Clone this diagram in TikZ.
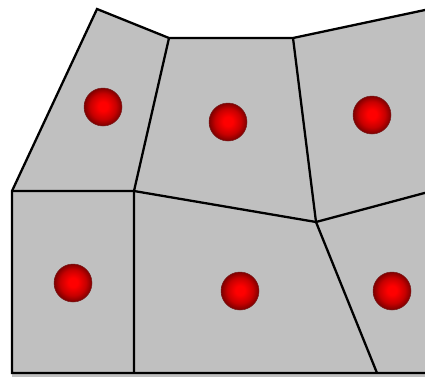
\documentclass[tikz,border=0pt]{standalone}
\usetikzlibrary{shapes.geometric}
\definecolor{cellgray}{RGB}{192,192,192}
\definecolor{balldark}{RGB}{125,0,0}
\definecolor{ballrim}{RGB}{120,30,30}
\pgfdeclareradialshading{seedball}{\pgfpoint{0bp}{1bp}}{%
  color(0bp)=(red); color(6bp)=(red); color(17bp)=(red!78!black); color(25bp)=(balldark); color(50bp)=(balldark)}
\begin{document}
\begin{tikzpicture}[x=1pt,y=-1pt,
  edge/.style={line width=2.3pt, line join=miter, line cap=butt, black},
  seed/.style={circle, minimum size=38pt, inner sep=0pt, draw=ballrim, line width=0.5pt,
    shading=seedball}]
\useasboundingbox (0,0) rectangle (425,376);
\clip (0,0) rectangle (425,376);
% outer region
\fill[cellgray] (12,373) -- (12,191) -- (97,9) -- (169,38) -- (293,38) -- (430,9) -- (430,378) -- (12,378) -- cycle;
% vertices
\coordinate (a) at (12,191);
\coordinate (b) at (97,9);
\coordinate (c) at (169,38);
\coordinate (d) at (293,38);
\coordinate (e) at (432,8.5);
\coordinate (f) at (134,191);
\coordinate (g) at (316,222);
\coordinate (h) at (432,191);
\coordinate (i) at (12,373);
\coordinate (j) at (134,373);
\coordinate (k) at (377,373);
\coordinate (l) at (432,373);
% outline
\draw[edge] (e) -- (d) -- (c) -- (b) -- (a) -- (i) -- (l);
% interior edges
\draw[edge] (c) -- (f) -- (j);
\draw[edge] (a) -- (f) -- (g) -- (h);
\draw[edge] (d) -- (g) -- (k);
% seeds
\node[seed] (s1) at (103,107) {};
\node[seed] (s2) at (228,122) {};
\node[seed] (s3) at (372,115) {};
\node[seed] (s4) at (73,283) {};
\node[seed] (s5) at (240,291) {};
\node[seed] (s6) at (392,291) {};
\end{tikzpicture}
\end{document}
